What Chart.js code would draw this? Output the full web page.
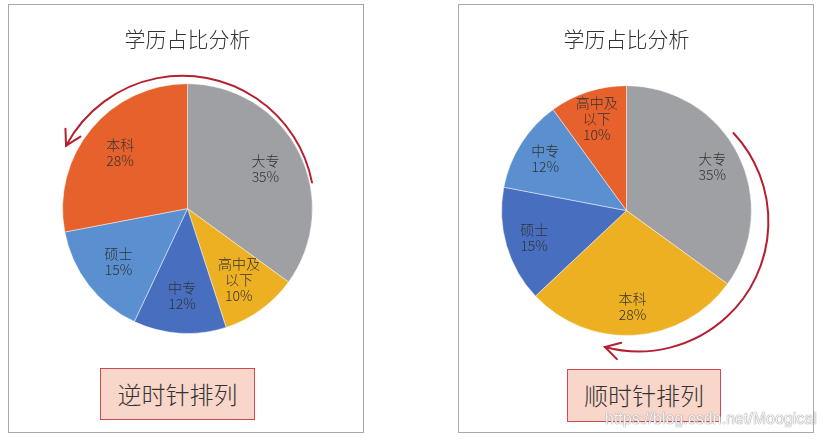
<!DOCTYPE html>
<html>
<head>
<meta charset="utf-8">
<script src="https://cdn.jsdelivr.net/npm/chart.js@4.4.0/dist/chart.umd.min.js"></script>
<style>
body{margin:0;background:#fff;width:823px;height:440px;position:relative;overflow:hidden;font-family:"Noto Sans CJK SC",sans-serif}
.panel{position:absolute;top:4px;width:356px;height:429px;box-sizing:border-box;border:1px solid #a8a8a8}
.panel canvas{position:absolute;left:0;top:0}
.tag{position:absolute;box-sizing:border-box;border:1.5px solid #cf4a52;background:#f8d6c9;color:#333;font-size:24px;font-weight:300;text-align:center}
.wm{position:absolute;left:605px;top:410px;font-family:"Liberation Sans",Arial,sans-serif;font-size:16px;color:rgba(255,255,255,0.92);text-shadow:0 0 1px #8a8a8a,0 0 1px #8a8a8a;white-space:nowrap}
</style>
</head>
<body>
<div class="panel" style="left:8px"><canvas id="ccw" width="354" height="427"></canvas></div>
<div class="panel" style="left:458px"><canvas id="cw" width="354" height="427"></canvas></div>
<div class="tag" style="left:100px;top:368px;width:155px;height:52px;line-height:49px">逆时针排列</div>
<div class="tag" style="left:567px;top:369px;width:154px;height:53px;line-height:50px">顺时针排列</div>
<div class="wm">https://blog.csdn.net/Moogical</div>
<script>
const chartTitle = '学历占比分析';

// left chart: counterclockwise order
const ccwLabels = ['大专', '高中及以下', '中专', '硕士', '本科'];
const ccwValues = [35, 10, 12, 15, 28];

// right chart: clockwise order
const cwLabels = ['大专', '本科', '硕士', '中专', '高中及以下'];
const cwValues = [35, 28, 15, 12, 10];

const sliceColors = ['#9FA0A4', '#EDB023', '#486EC0', '#5A8FD0', '#E7612C'];

// labels inside slices: name (wrapped after 3 chars) + percent
const sliceLabels = {
  id: 'sliceLabels',
  afterDatasetsDraw(chart, args, opts) {
    const ctx = chart.ctx;
    const meta = chart.getDatasetMeta(0);
    const vals = chart.data.datasets[0].data;
    const total = vals.reduce((a, b) => a + b, 0);
    ctx.save();
    ctx.font = '300 14px "Noto Sans CJK SC", sans-serif';
    ctx.fillStyle = '#333';
    ctx.textAlign = 'center';
    ctx.textBaseline = 'middle';
    meta.data.forEach((arc, i) => {
      const mid = (arc.startAngle + arc.endAngle) / 2;
      const r = arc.outerRadius * opts.radius;
      const x = arc.x + Math.cos(mid) * r;
      const y = arc.y + Math.sin(mid) * r;
      const name = chart.data.labels[i];
      const lines = name.length > 3 ? [name.slice(0, 3), name.slice(3)] : [name];
      lines.push(Math.round(vals[i] / total * 100) + '%');
      const lh = 16;
      const y0 = y - (lines.length - 1) * lh / 2;
      lines.forEach((t, k) => ctx.fillText(t, x, y0 + k * lh));
    });
    ctx.restore();
  }
};

// curved red arrow around the pie
const turnArrow = {
  id: 'turnArrow',
  afterDraw(chart, args, opts) {
    const ctx = chart.ctx;
    const arc = chart.getDatasetMeta(0).data[0];
    const cx = arc.x + opts.dx, cy = arc.y + opts.dy;
    const r = arc.outerRadius + opts.gap;
    const a0 = opts.from * Math.PI / 180, a1 = opts.to * Math.PI / 180;
    ctx.save();
    ctx.strokeStyle = '#B3202F';
    ctx.lineWidth = 2;
    ctx.lineCap = 'round';
    ctx.beginPath();
    ctx.arc(cx, cy, r, a0, a1, opts.ccw);
    ctx.stroke();
    const tx = cx + Math.cos(a1) * r, ty = cy + Math.sin(a1) * r;
    // direction back along the arc
    const back = opts.ccw ? a1 + Math.PI / 2 : a1 - Math.PI / 2;
    const len = 17, spread = 30 * Math.PI / 180;
    ctx.beginPath();
    ctx.moveTo(tx + Math.cos(back - spread) * len, ty + Math.sin(back - spread) * len);
    ctx.lineTo(tx, ty);
    ctx.lineTo(tx + Math.cos(back + spread) * len, ty + Math.sin(back + spread) * len);
    ctx.stroke();
    ctx.restore();
  }
};

function makePie(id, labels, values, pad, titlePad, labelRadius, arrow) {
  return new Chart(document.getElementById(id), {
    type: 'pie',
    data: {
      labels: labels,
      datasets: [{
        data: values,
        backgroundColor: sliceColors,
        borderColor: 'rgba(255,255,255,0.45)',
        borderWidth: 1,
        hoverOffset: 0
      }]
    },
    options: {
      responsive: false,
      animation: false,
      layout: { padding: pad },
      plugins: {
        legend: { display: false },
        tooltip: { enabled: false },
        title: {
          display: true,
          text: chartTitle,
          color: '#333',
          font: { family: '"Noto Sans CJK SC", sans-serif', size: 21, weight: 300, lineHeight: 1.2 },
          padding: titlePad
        },
        sliceLabels: { radius: labelRadius },
        turnArrow: arrow
      }
    },
    plugins: [sliceLabels, turnArrow]
  });
}

makePie('ccw', ccwLabels, ccwValues,
  { left: 53, right: 50, top: 0, bottom: 98 }, { top: 21, bottom: 32 }, 0.7,
  { dx: -5, dy: -1, gap: 7, from: -11, to: -152, ccw: true });

makePie('cw', cwLabels, cwValues,
  { left: 42, right: 61, top: 0, bottom: 96 }, { top: 21, bottom: 34 }, 0.77,
  { dx: 12, dy: 11, gap: 5, from: -43, to: 105, ccw: false });
</script>
</body>
</html>
